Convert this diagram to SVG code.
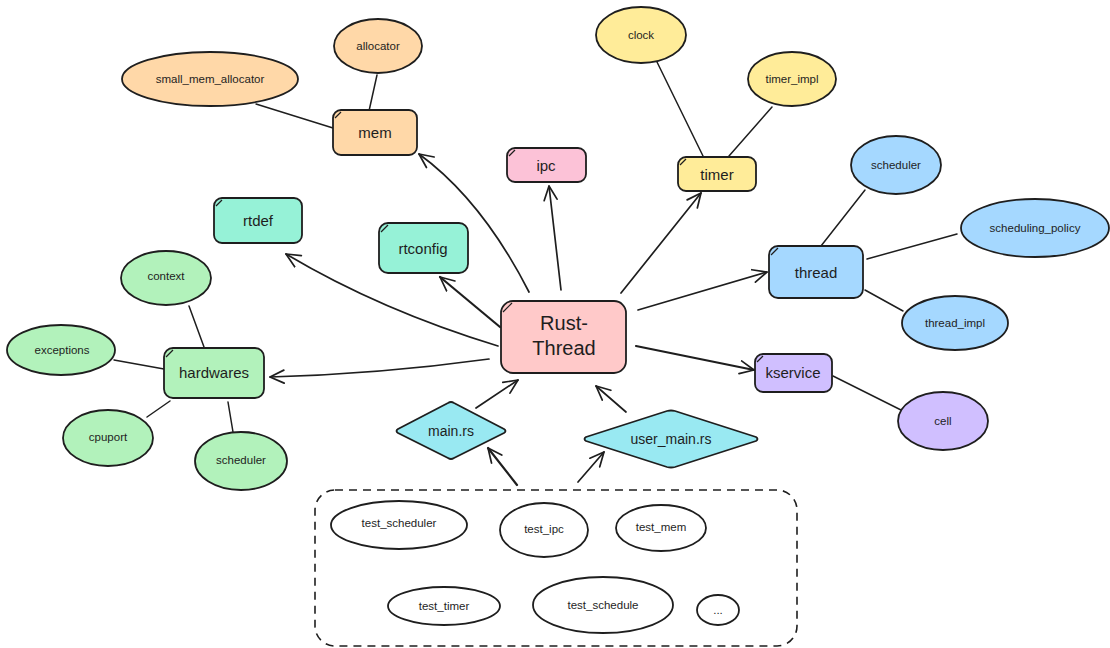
<svg xmlns="http://www.w3.org/2000/svg" width="1110" height="648" viewBox="0 0 1110 648">
<style>
  .s{stroke:#1e1e1e;stroke-width:1.8;stroke-linejoin:round}
  .ln{stroke:#1e1e1e;stroke-width:1.5;fill:none;stroke-linecap:round}
  .ar{stroke:#1e1e1e;stroke-width:1.7;fill:none;stroke-linecap:round;marker-end:url(#ah)}
  .t{font-family:"Liberation Sans",Arial,sans-serif;fill:#1e1e1e;text-anchor:middle;dominant-baseline:central}
  .b{font-size:15px}
  .e{font-size:11.5px}
  .c{stroke:#1e1e1e;stroke-width:1.2;fill:none}
  .orange{fill:#ffd8a8}.yellow{fill:#ffec99}.pink{fill:#fcc2d7}.blue{fill:#a5d8ff}
  .purple{fill:#d0bfff}.teal{fill:#96f2d7}.green{fill:#b2f2bb}.red{fill:#ffc9c9}.cyan{fill:#99e9f2}.white{fill:#ffffff}
</style>
<defs>
  <marker id="ah" viewBox="0 0 16 16" refX="15" refY="8" markerWidth="16" markerHeight="16" markerUnits="userSpaceOnUse" orient="auto">
    <path d="M1,1.5 L15,8 L1,14.5" fill="none" stroke="#1e1e1e" stroke-width="1.7" stroke-linecap="round" stroke-linejoin="round"/>
  </marker>
</defs>

<g id="connectors">
  <!-- mem -->
  <line class="ln" x1="256" y1="104" x2="333" y2="128"/>
  <line class="ln" x1="377" y1="75" x2="369" y2="111"/>
  <!-- timer -->
  <line class="ln" x1="657" y1="62" x2="703" y2="156"/>
  <line class="ln" x1="772" y1="107" x2="729" y2="156"/>
  <!-- thread -->
  <line class="ln" x1="865" y1="190" x2="821" y2="246"/>
  <line class="ln" x1="957" y1="234" x2="867" y2="259"/>
  <line class="ln" x1="865" y1="290" x2="903" y2="311"/>
  <!-- kservice -->
  <line class="ln" x1="833" y1="376" x2="901" y2="410"/>
  <!-- hardwares -->
  <line class="ln" x1="189" y1="306" x2="204" y2="347"/>
  <line class="ln" x1="114" y1="360" x2="164" y2="369"/>
  <line class="ln" x1="147" y1="417" x2="170" y2="401"/>
  <line class="ln" x1="228" y1="402" x2="233" y2="432"/>
  <!-- arrows from Rust-Thread -->
  <path class="ar" d="M529,292 Q482,200 419,154"/>
  <path class="ar" d="M561,290 L549,186"/>
  <path class="ar" d="M621,293 L701,193"/>
  <path class="ar" d="M638,310 L767,272"/>
  <path class="ar" d="M636,346 L754,370" style="stroke-width:2.2"/>
  <path class="ar" d="M500,327 L440,277" style="stroke-width:2.2"/>
  <path class="ar" d="M498,346 Q380,310 286,254"/>
  <path class="ar" d="M489,359 Q380,374 270,377"/>
  <!-- arrows into Rust-Thread -->
  <path class="ar" d="M476,408 L518,380"/>
  <path class="ar" d="M626,412 L596,386"/>
  <!-- arrows from tests -->
  <path class="ar" d="M517,485 L488,448" style="stroke-width:2.2"/>
  <path class="ar" d="M578,482 L604,452"/>
</g>

<g id="small_mem_allocator"><ellipse class="s orange" cx="210" cy="79" rx="88" ry="27"/><text class="t e" x="210" y="79">small_mem_allocator</text></g>
<g id="allocator"><ellipse class="s orange" cx="378" cy="46" rx="44" ry="27"/><text class="t e" x="378" y="46">allocator</text></g>
<g id="mem"><rect class="s orange" x="333" y="110" width="84" height="45" rx="8"/><path class="c" d="M335,118 L341,112"/><text class="t b" x="375" y="132">mem</text></g>

<g id="clock"><ellipse class="s yellow" cx="641" cy="35" rx="45" ry="28"/><text class="t e" x="641" y="35">clock</text></g>
<g id="timer_impl"><ellipse class="s yellow" cx="792" cy="79" rx="44" ry="27"/><text class="t e" x="792" y="79">timer_impl</text></g>
<g id="timer"><rect class="s yellow" x="678" y="157" width="78" height="34" rx="8"/><path class="c" d="M680,165 L686,159"/><text class="t b" x="717" y="174">timer</text></g>

<g id="ipc"><rect class="s pink" x="507" y="148" width="79" height="34" rx="8"/><path class="c" d="M509,156 L515,150"/><text class="t b" x="546" y="165">ipc</text></g>

<g id="scheduler_thread"><ellipse class="s blue" cx="896" cy="165" rx="45" ry="29"/><text class="t e" x="896" y="165">scheduler</text></g>
<g id="scheduling_policy"><ellipse class="s blue" cx="1035" cy="228" rx="74" ry="29"/><text class="t e" x="1035" y="228">scheduling_policy</text></g>
<g id="thread_impl"><ellipse class="s blue" cx="955" cy="323" rx="53" ry="27"/><text class="t e" x="955" y="323">thread_impl</text></g>
<g id="thread"><rect class="s blue" x="769" y="246" width="94" height="52" rx="9"/><path class="c" d="M771,255 L778,248"/><text class="t b" x="816" y="272">thread</text></g>

<g id="kservice"><rect class="s purple" x="755" y="354" width="77" height="38" rx="8"/><path class="c" d="M757,362 L763,356"/><text class="t b" x="793" y="372">kservice</text></g>
<g id="cell"><ellipse class="s purple" cx="943" cy="421" rx="45" ry="29"/><text class="t e" x="943" y="421">cell</text></g>

<g id="rtdef"><rect class="s teal" x="214" y="198" width="88" height="45" rx="8"/><path class="c" d="M216,206 L222,200"/><text class="t b" x="258" y="220">rtdef</text></g>
<g id="rtconfig"><rect class="s teal" x="379" y="223" width="89" height="50" rx="9"/><path class="c" d="M381,232 L388,225"/><text class="t b" x="423" y="248">rtconfig</text></g>

<g id="context"><ellipse class="s green" cx="166" cy="278" rx="45" ry="27"/><text class="t e" x="166" y="276">context</text></g>
<g id="exceptions"><ellipse class="s green" cx="61" cy="350" rx="54" ry="25"/><text class="t e" x="62" y="350">exceptions</text></g>
<g id="cpuport"><ellipse class="s green" cx="108" cy="438" rx="45" ry="28"/><text class="t e" x="108" y="437">cpuport</text></g>
<g id="scheduler_hw"><ellipse class="s green" cx="241" cy="461" rx="46" ry="29"/><text class="t e" x="241" y="460">scheduler</text></g>
<g id="hardwares"><rect class="s green" x="164" y="348" width="100" height="50" rx="9"/><path class="c" d="M166,357 L173,350"/><text class="t b" x="214" y="372">hardwares</text></g>

<g id="rust_thread"><rect class="s red" x="501" y="301" width="125" height="72" rx="12"/><path class="c" d="M503,312 L512,303"/><text class="t" style="font-size:20px" x="564" y="323">Rust-</text><text class="t" style="font-size:20px" x="564" y="348">Thread</text></g>

<g id="main_rs"><path class="s cyan" d="M398,433 Q395,431 398,429 L448,403 Q451,401 454,403 L504,429 Q507,431 504,433 L454,458 Q451,460 448,458 Z"/><text class="t" style="font-size:14px" x="451" y="431">main.rs</text></g>
<g id="user_main_rs"><path class="s cyan" d="M586,441 Q583,439 586,437 L667,411 Q671,410 675,411 L756,437 Q759,439 756,441 L675,467 Q671,468 667,467 Z"/><text class="t" style="font-size:14px" x="671" y="439">user_main.rs</text></g>

<g id="tests">
  <rect x="315" y="490" width="482" height="156" rx="20" fill="none" stroke="#1e1e1e" stroke-width="1.6" stroke-dasharray="8 6"/>
  <g id="test_scheduler"><ellipse class="s white" cx="399" cy="525" rx="68" ry="24"/><text class="t e" x="399" y="523">test_scheduler</text></g>
  <g id="test_ipc"><ellipse class="s white" cx="544" cy="530" rx="44" ry="27"/><text class="t e" x="544" y="529">test_ipc</text></g>
  <g id="test_mem"><ellipse class="s white" cx="661" cy="528" rx="45" ry="23"/><text class="t e" x="661" y="527">test_mem</text></g>
  <g id="test_timer"><ellipse class="s white" cx="444" cy="606" rx="56" ry="19"/><text class="t e" x="444" y="606">test_timer</text></g>
  <g id="test_schedule"><ellipse class="s white" cx="603" cy="605" rx="70" ry="28"/><text class="t e" x="603" y="605">test_schedule</text></g>
  <g id="etc"><ellipse class="s white" cx="718" cy="610" rx="21" ry="15"/><text class="t e" x="718" y="610">...</text></g>
</g>
</svg>
